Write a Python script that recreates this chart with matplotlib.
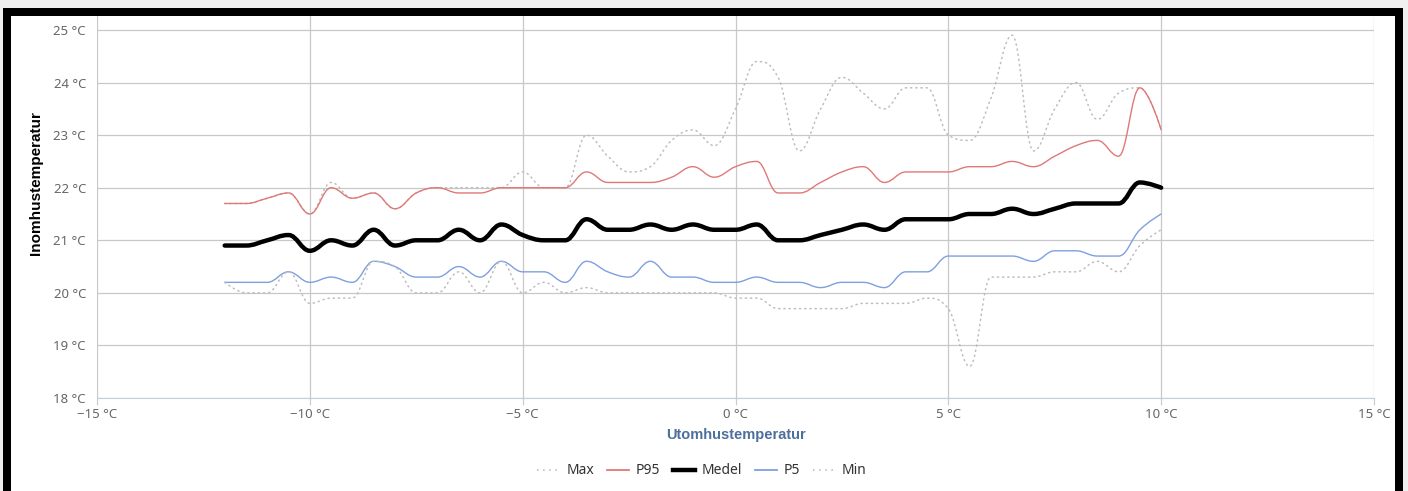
import numpy as np
import matplotlib
matplotlib.use('Agg')
import matplotlib.pyplot as plt
from matplotlib.path import Path
from matplotlib.patches import PathPatch, Rectangle
from matplotlib.lines import Line2D

plt.rcParams['font.family'] = ['Noto Sans', 'DejaVu Sans']

# outdoor temperature (x) and indoor temperature statistics
ute = [-12, -11.5, -11, -10.5, -10, -9.5, -9, -8.5, -8,
       -7.5, -7, -6.5, -6, -5.5, -5, -4.5, -4,
       -3.5, -3, -2.5, -2, -1.5, -1, -0.5, 0,
       0.5, 1, 1.5, 2, 2.5, 3, 3.5, 4,
       4.5, 5, 5.5, 6, 6.5, 7, 7.5, 8,
       8.5, 9, 9.5, 10]

t_max = [21.7, 21.7, 21.8, 21.9, 21.5, 22.1, 21.8, 21.9, 21.6,
         21.9, 22.0, 22.0, 22.0, 22.0, 22.3, 22.0, 22.0,
         23.0, 22.6, 22.3, 22.4, 22.9, 23.1, 22.8, 23.5,
         24.4, 24.1, 22.7, 23.5, 24.1, 23.8, 23.5, 23.9,
         23.9, 23.0, 22.9, 23.7, 24.9, 22.7, 23.5, 24.0,
         23.3, 23.8, 23.9, 23.1]

t_p95 = [21.7, 21.7, 21.8, 21.9, 21.5, 22.0, 21.8, 21.9, 21.6,
         21.9, 22.0, 21.9, 21.9, 22.0, 22.0, 22.0, 22.0,
         22.3, 22.1, 22.1, 22.1, 22.2, 22.4, 22.2, 22.4,
         22.5, 21.9, 21.9, 22.1, 22.3, 22.4, 22.1, 22.3,
         22.3, 22.3, 22.4, 22.4, 22.5, 22.4, 22.6, 22.8,
         22.9, 22.6, 23.9, 23.1]

t_medel = [20.9, 20.9, 21.0, 21.1, 20.8, 21.0, 20.9, 21.2, 20.9,
           21.0, 21.0, 21.2, 21.0, 21.3, 21.1, 21.0, 21.0,
           21.4, 21.2, 21.2, 21.3, 21.2, 21.3, 21.2, 21.2,
           21.3, 21.0, 21.0, 21.1, 21.2, 21.3, 21.2, 21.4,
           21.4, 21.4, 21.5, 21.5, 21.6, 21.5, 21.6, 21.7,
           21.7, 21.7, 22.1, 22.0]

t_p5 = [20.2, 20.2, 20.2, 20.4, 20.2, 20.3, 20.2, 20.6, 20.5,
        20.3, 20.3, 20.5, 20.3, 20.6, 20.4, 20.4, 20.2,
        20.6, 20.4, 20.3, 20.6, 20.3, 20.3, 20.2, 20.2,
        20.3, 20.2, 20.2, 20.1, 20.2, 20.2, 20.1, 20.4,
        20.4, 20.7, 20.7, 20.7, 20.7, 20.6, 20.8, 20.8,
        20.7, 20.7, 21.2, 21.5]

t_min = [20.2, 20.0, 20.0, 20.4, 19.8, 19.9, 19.9, 20.6, 20.5,
         20.0, 20.0, 20.4, 20.0, 20.6, 20.0, 20.2, 20.0,
         20.1, 20.0, 20.0, 20.0, 20.0, 20.0, 20.0, 19.9,
         19.9, 19.7, 19.7, 19.7, 19.7, 19.8, 19.8, 19.8,
         19.9, 19.7, 18.6, 20.3, 20.3, 20.3, 20.4, 20.4,
         20.6, 20.4, 20.9, 21.2]

x_ticks = [-15, -10, -5, 0, 5, 10, 15]
x_ticklabels = ['\u221215 \u00b0C', '\u221210 \u00b0C', '\u22125 \u00b0C', '0 \u00b0C',
                '5 \u00b0C', '10 \u00b0C', '15 \u00b0C']
y_ticks = [18, 19, 20, 21, 22, 23, 24, 25]
y_ticklabels = ['%d \u00b0C' % v for v in y_ticks]


def spline_path(xs, ys, smoothing=1.5):
    # smooth curve through the points (same construction as a Highcharts spline)
    xs = np.asarray(xs, float)
    ys = np.asarray(ys, float)
    n = len(xs)
    denom = smoothing + 1
    lc = [(xs[i], ys[i]) for i in range(n)]
    rc = [(xs[i], ys[i]) for i in range(n)]
    for i in range(1, n - 1):
        px, py = xs[i], ys[i]
        lx, ly = xs[i - 1], ys[i - 1]
        nx, ny = xs[i + 1], ys[i + 1]
        lcx = (smoothing * px + lx) / denom
        lcy = (smoothing * py + ly) / denom
        rcx = (smoothing * px + nx) / denom
        rcy = (smoothing * py + ny) / denom
        corr = (rcy - lcy) * (rcx - px) / (rcx - lcx) + py - rcy
        lcy += corr
        rcy += corr
        if lcy > ly and lcy > py:
            lcy = max(ly, py)
            rcy = 2 * py - lcy
        elif lcy < ly and lcy < py:
            lcy = min(ly, py)
            rcy = 2 * py - lcy
        if rcy > ny and rcy > py:
            rcy = max(ny, py)
            lcy = 2 * py - rcy
        elif rcy < ny and rcy < py:
            rcy = min(ny, py)
            lcy = 2 * py - rcy
        lc[i] = (lcx, lcy)
        rc[i] = (rcx, rcy)
    verts = [(xs[0], ys[0])]
    codes = [Path.MOVETO]
    for i in range(1, n):
        verts += [rc[i - 1], lc[i], (xs[i], ys[i])]
        codes += [Path.CURVE4] * 3
    return Path(verts, codes)


fig = plt.figure(figsize=(14.08, 4.91), dpi=100, facecolor='#f0f0f0')
W, H = 1408, 491

# white panel with thick black frame
fig.patches.append(Rectangle((7.5 / W, -20 / H), (1398.5 - 7.5) / W, (491 - 12 + 20) / H,
                             transform=fig.transFigure, facecolor='white',
                             edgecolor='none', zorder=-2))

ax = fig.add_axes([97 / W, (491 - 398) / H, (1374 - 97) / W, (398 - 16) / H])
ax.set_xlim(-15, 15)
ax.set_ylim(18, 25 + 14 / 52.57)
ax.set_facecolor('none')

dot = (0, (0.8, 2.6))
series = [
    (t_max, '#bdbdbd', 1.1, dot, 'Max'),
    (t_p95, '#e07878', 1.0, '-', 'P95'),
    (t_medel, 'black', 3.2, '-', 'Medel'),
    (t_p5, '#7f9fe0', 1.0, '-', 'P5'),
    (t_min, '#bdbdbd', 1.1, dot, 'Min'),
]
handles = []
for vals, col, lw, ls, name in series:
    ax.add_patch(PathPatch(spline_path(ute, vals), facecolor='none', edgecolor=col,
                           lw=lw, linestyle=ls, capstyle='round', joinstyle='round', zorder=3))
    handles.append(Line2D([], [], color=col, lw=lw if lw > 2 else 1.3, linestyle=ls, label=name))

ax.set_xticks(x_ticks)
ax.set_xticklabels(x_ticklabels)
ax.set_yticks(y_ticks)
ax.set_yticklabels(y_ticklabels)
ax.grid(True, color='#c8c8c8', lw=0.9)
ax.set_axisbelow(True)
for s in ['top', 'right', 'left']:
    ax.spines[s].set_visible(False)
ax.spines['bottom'].set_color('#c0d0e0')
ax.tick_params(axis='x', colors='#c0d0e0', length=5, width=0.9, labelcolor='#666666',
               labelsize=9.5, pad=2)
ax.tick_params(axis='y', length=0, labelcolor='#666666', labelsize=9.5, pad=8)

fig.text(36 / W, 1 - 183 / H, 'Inomhustemperatur', rotation=90, ha='center', va='center',
         fontsize=11, fontweight='bold', color='black', family='Liberation Sans')
fig.text(736 / W, 1 - 435 / H, 'Utomhustemperatur', ha='center', va='center',
         fontsize=10.5, fontweight='bold', color='#4d6f9b', family='Liberation Sans')

fig.legend(handles=handles, loc='center', bbox_to_anchor=(702 / W, 1 - 471 / H), ncol=5,
           frameon=False, fontsize=10, handlelength=1.6, handletextpad=0.5,
           columnspacing=0.9, labelcolor='#333333')

# frame on top (cuts the last tick label like in the original)
fig.patches.append(Rectangle((7.5 / W, -20 / H), (1398.5 - 7.5) / W, (491 - 12 + 20) / H,
                             transform=fig.transFigure, facecolor='none',
                             edgecolor='black', lw=8 * 0.72, zorder=10))

fig.savefig('out.png', dpi=100, facecolor=fig.get_facecolor())
